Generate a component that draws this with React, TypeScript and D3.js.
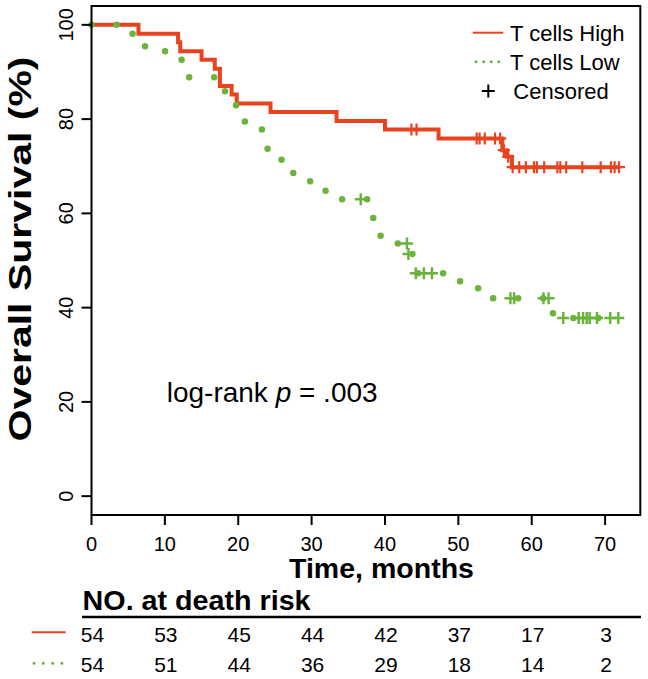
import React from "react";
import * as d3 from "d3";

// ---- data ----
const highSteps: [number, number][] = [
  [0, 100], [6.4, 98.1], [11.8, 96.3], [12.1, 94.4], [15.0, 92.6], [16.8, 90.7],
  [17.5, 87.0], [19.1, 85.2], [19.8, 83.3], [24.4, 81.5], [33.4, 79.6], [40.0, 77.8],
  [47.3, 75.9], [56.0, 73.4], [56.6, 72.0], [57.3, 69.8], [71.9, 69.8],
];
const highCensor: [number, number][] = [
  [43.6, 77.8], [44.3, 77.8], [52.5, 75.9], [52.9, 75.9], [53.6, 75.9], [55.0, 75.9],
  [55.7, 75.9], [56.2, 73.4], [56.8, 72.0], [57.4, 69.8], [58.3, 69.8], [59.2, 69.8],
  [60.3, 69.8], [60.7, 69.8], [61.7, 69.8], [63.5, 69.8], [63.9, 69.8], [64.7, 69.8],
  [66.9, 69.8], [69.4, 69.8], [70.8, 69.8], [71.3, 69.8], [71.9, 69.8],
];
const lowSteps: [number, number][] = [
  [0, 100], [4.5, 98.1], [7.3, 94.4], [11.5, 92.6], [13.3, 88.9], [18.2, 85.2],
  [19.7, 81.5], [20.9, 77.8], [24.0, 72.2], [25.9, 70.4], [27.5, 68.5], [29.8, 66.7],
  [31.9, 64.8], [34.1, 63.0], [38.4, 57.3], [39.4, 53.6], [43.1, 51.4], [43.9, 47.3],
  [49.0, 45.6], [52.7, 42.0], [62.9, 37.8], [71.8, 37.8],
];
const lowCensor: [number, number][] = [
  [36.7, 63.0], [43.0, 53.6], [43.2, 51.4], [44.2, 47.3], [45.3, 47.3], [46.4, 47.3],
  [57.1, 42.0], [57.6, 42.0], [61.6, 42.0], [62.3, 42.0], [64.3, 37.8], [66.4, 37.8],
  [67.0, 37.8], [67.5, 37.8], [67.9, 37.8], [68.9, 37.8], [70.7, 37.8], [71.8, 37.8],
];
const xTicks = [0, 10, 20, 30, 40, 50, 60, 70];
const yTicks = [0, 20, 40, 60, 80, 100];
const riskHigh = [54, 53, 45, 44, 42, 37, 17, 3];
const riskLow = [54, 51, 44, 36, 29, 18, 14, 2];
const legendLabels = ["T cells High", "T cells Low", "Censored"];

const RED = "#E8431F";
const GREEN = "#6BB43C";
const FONT = "'Liberation Sans', Arial, sans-serif";

export default function App() {
  const left = 91.5, right = 640.3, top = 6, bottom = 515;
  const x = d3.scaleLinear().domain([0, 74.8]).range([left, right]);
  const y = d3.scaleLinear().domain([-4, 104]).range([bottom, top]);
  const line = d3
    .line<[number, number]>()
    .x((d) => x(d[0]))
    .y((d) => y(d[1]))
    .curve(d3.curveStepAfter);

  const plus = (cx: number, cy: number, s: number) =>
    `M${cx - s},${cy}H${cx + s}M${cx},${cy - s}V${cy + s}`;

  return (
    <svg
      width={648}
      height={679}
      style={{ position: "absolute", left: 0, top: 0, background: "#fff" }}
      fontFamily={FONT}
    >
      {/* curves */}
      <path d={line(highSteps) || ""} fill="none" stroke={RED} strokeWidth={4} />
      {highCensor.map((d, i) => (
        <path key={"hc" + i} d={plus(x(d[0]), y(d[1]), 6)} stroke={RED} strokeWidth={2.2} />
      ))}
      <path
        d={line(lowSteps) || ""}
        fill="none"
        stroke={GREEN}
        strokeWidth={6.5}
        strokeLinecap="round"
        strokeDasharray="0 25"
      />
      {lowCensor.map((d, i) => (
        <path key={"lc" + i} d={plus(x(d[0]), y(d[1]), 6)} stroke={GREEN} strokeWidth={2.5} />
      ))}

      {/* box */}
      <rect x={left} y={top} width={right - left} height={bottom - top} fill="none" stroke="#000" strokeWidth={2} />

      {/* x axis */}
      {xTicks.map((t) => (
        <g key={"xt" + t}>
          <line x1={x(t)} x2={x(t)} y1={bottom} y2={bottom + 10} stroke="#000" strokeWidth={2} />
          <text x={x(t)} y={550.5} fontSize={20} textAnchor="middle">{t}</text>
        </g>
      ))}
      <text x={381.5} y={578} fontSize={27} fontWeight="bold" textAnchor="middle" textLength={185} lengthAdjust="spacingAndGlyphs">
        Time, months
      </text>

      {/* y axis */}
      {yTicks.map((t) => (
        <g key={"yt" + t}>
          <line x1={left - 10} x2={left} y1={y(t)} y2={y(t)} stroke="#000" strokeWidth={2} />
          <text transform={`translate(73,${y(t)}) rotate(-90)`} fontSize={20} textAnchor="middle">{t}</text>
        </g>
      ))}
      <text
        transform={`translate(31,249) rotate(-90)`}
        fontSize={31}
        fontWeight="bold"
        textAnchor="middle"
        textLength={385}
        lengthAdjust="spacingAndGlyphs"
      >
        Overall Survival (%)
      </text>

      {/* log-rank */}
      <text x={166.7} y={401.7} fontSize={28}>
        log-rank <tspan fontStyle="italic">p</tspan> = .003
      </text>

      {/* legend */}
      <line x1={472.7} x2={503.3} y1={32.7} y2={32.7} stroke={RED} strokeWidth={2} />
      <text x={510} y={32.7 + 7.9} fontSize={22}>{legendLabels[0]}</text>
      <line x1={476} x2={499} y1={61.7} y2={61.7} stroke={GREEN} strokeWidth={3} strokeLinecap="round" strokeDasharray="0 7.6" />
      <text x={510} y={61.7 + 7.9} fontSize={22}>{legendLabels[1]}</text>
      <path d={plus(488.3, 91, 6.5)} stroke="#000" strokeWidth={2} />
      <text x={513.3} y={91 + 7.9} fontSize={22}>{legendLabels[2]}</text>

      {/* risk table */}
      <text x={82.6} y={610} fontSize={27} fontWeight="bold" textLength={228} lengthAdjust="spacingAndGlyphs">
        NO. at death risk
      </text>
      <line x1={82} x2={641} y1={617} y2={617} stroke="#000" strokeWidth={2.7} />
      <line x1={31.7} x2={65.7} y1={632.3} y2={632.3} stroke={RED} strokeWidth={2} />
      <line x1={34} x2={62} y1={663.3} y2={663.3} stroke={GREEN} strokeWidth={3} strokeLinecap="round" strokeDasharray="0 9.3" />
      {riskHigh.map((n, i) => (
        <text key={"rh" + i} x={x(xTicks[i]) + 1} y={641.5} fontSize={21} textAnchor="middle">{n}</text>
      ))}
      {riskLow.map((n, i) => (
        <text key={"rl" + i} x={x(xTicks[i]) + 1} y={671.5} fontSize={21} textAnchor="middle">{n}</text>
      ))}
    </svg>
  );
}
